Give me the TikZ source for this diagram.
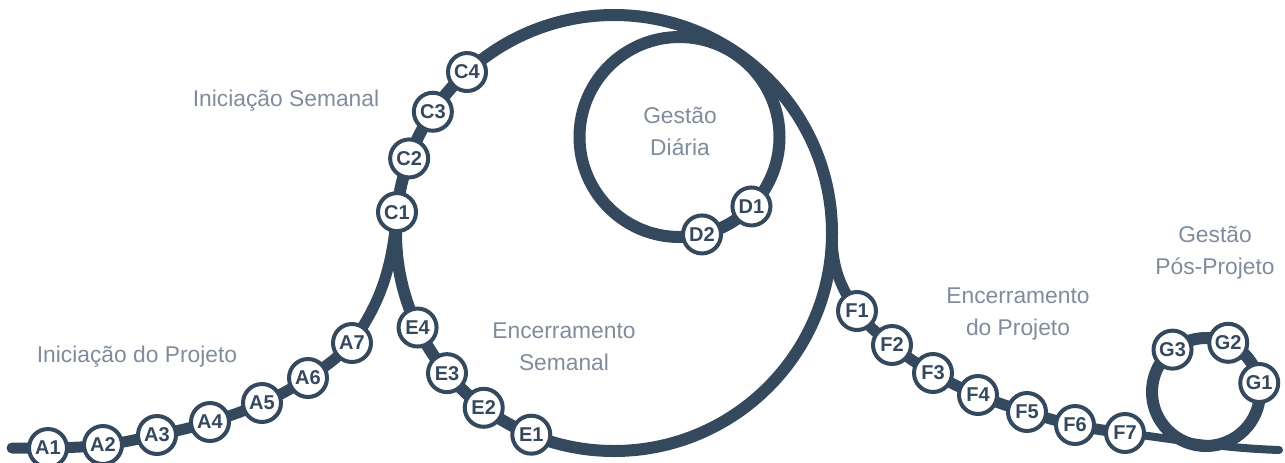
\documentclass[tikz,border=0pt]{standalone}
\usepackage{fontspec}
\setmainfont{Liberation Sans}
\usetikzlibrary{backgrounds}
\definecolor{navy}{HTML}{34495E}
\definecolor{phasegray}{HTML}{7F8C9B}

\begin{document}
\begin{tikzpicture}[x=0.5pt, y=0.5pt, stop/.style={circle, draw=navy, fill=white, line width=2pt, minimum size=19pt, inner sep=0pt, text=navy, font=\fontsize{10}{10}\selectfont\bfseries}, phase/.style={text=phasegray, align=center, font=\fontsize{11.4}{16}\selectfont}, track/.style={draw=navy, line width=5.5pt, line cap=round}]
\useasboundingbox (0,0) rectangle (1285,-462);
\coordinate (loop) at (614,-233);
\coordinate (daily) at (679.5,-137);
\coordinate (post) at (1206,-392);
\coordinate (start) at (12,-448);
\coordinate (finish) at (1279,-450);
\coordinate (fsplit) at ([shift={(0:218)}]loop);
\node[stop] (A1) at (48,-448) {A1};
\node[stop] (A2) at (103,-445) {A2};
\node[stop] (A3) at (157,-435) {A3};
\node[stop] (A4) at (210,-422) {A4};
\node[stop] (A5) at (262,-403) {A5};
\node[stop] (A6) at (308,-378) {A6};
\node[stop] (A7) at (352,-343) {A7};
\node[stop] (C1) at ([shift={(174.5:218)}]loop) {C1};
\node[stop] (C2) at ([shift={(160:218)}]loop) {C2};
\node[stop] (C3) at ([shift={(146.2:218)}]loop) {C3};
\node[stop] (C4) at ([shift={(132.4:218)}]loop) {C4};
\node[stop] (E4) at ([shift={(205.7:218)}]loop) {E4};
\node[stop] (E3) at ([shift={(220:218)}]loop) {E3};
\node[stop] (E2) at ([shift={(233.3:218)}]loop) {E2};
\node[stop] (E1) at ([shift={(247.7:218)}]loop) {E1};
\node[stop] (D1) at ([shift={(-44:100)}]daily) {D1};
\node[stop] (D2) at ([shift={(-77:100)}]daily) {D2};
\node[stop] (F1) at (857,-311) {F1};
\node[stop] (F2) at (892,-345) {F2};
\node[stop] (F3) at (933,-373) {F3};
\node[stop] (F4) at (978,-395) {F4};
\node[stop] (F5) at (1027,-412) {F5};
\node[stop] (F6) at (1075,-425) {F6};
\node[stop] (F7) at (1125,-433) {F7};
\node[stop] (G1) at ([shift={(9.6:54)}]post) {G1};
\node[stop] (G2) at ([shift={(65.7:54)}]post) {G2};
\node[stop] (G3) at ([shift={(128.3:54)}]post) {G3};
\node[phase] (initproj) at (137,-357) {Iniciação do Projeto};
\node[phase] (initweek) at (286,-101) {Iniciação Semanal};
\node[phase] (daylabel) at (680,-131) {Gestão\\Diária};
\node[phase] (closeweek) at (564,-347) {Encerramento\\Semanal};
\node[phase] (closeproj) at (1018,-314) {Encerramento\\do Projeto};
\node[phase] (postproj) at (1215,-253) {Gestão\\Pós-Projeto};
\begin{scope}[on background layer]
\draw[track, line width=6pt] (loop) circle[radius=218];
\draw[track, line width=6pt] (daily) circle[radius=100];
\draw[track, line width=6pt] (post) circle[radius=54];
\draw[track] (start) -- (A1.center) to[out=1.5,in=186.7] (A2.center) to[out=6.7,in=192] (A3.center) to[out=12,in=197] (A4.center) to[out=17,in=204] (A5.center) to[out=24,in=213] (A6.center) to[out=33,in=225] (A7.center) to[out=55,in=-95.5] (C1.center);
\draw[track] (fsplit) to[out=-90,in=125] (F1.center) to[out=-55,in=141] (F2.center) to[out=-39,in=150] (F3.center) to[out=-30,in=158] (F4.center) to[out=-22,in=163] (F5.center) to[out=-17,in=168] (F6.center) to[out=-12,in=173] (F7.center);
\draw[track, line width=4pt] (F7.center) to[out=-7,in=178] (finish);
\end{scope}
\end{tikzpicture}
\end{document}
